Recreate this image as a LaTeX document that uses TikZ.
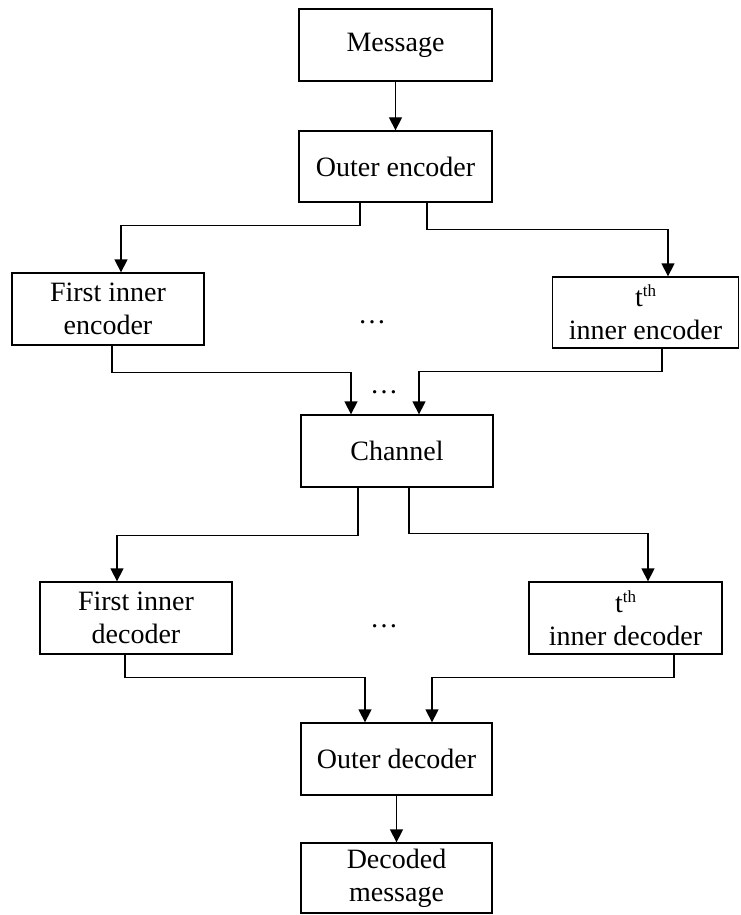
\documentclass[tikz,border=0pt]{standalone}
\usepackage{fontspec}
\setmainfont{Liberation Serif}
\usetikzlibrary{arrows.meta}
\begin{document}
\begin{tikzpicture}[x=1pt,y=-1pt,
  box/.style={draw, line width=1.3pt, inner sep=0pt, align=center,
    font=\fontsize{28}{33}\selectfont},
  arr/.style={line width=1.3pt, -{Triangle[length=13pt,width=13pt]}},
  dotsnode/.style={inner sep=0pt, anchor=base, font=\fontsize{28}{33}\selectfont}]
\useasboundingbox (0,0) rectangle (740,915);
\node[box, minimum width=193pt, minimum height=72pt] (msg) at (395.5,45) {Message};
\node[box, minimum width=193pt, minimum height=71pt] (outenc) at (395.5,166.5) {Outer encoder};
\node[box, minimum width=192pt, minimum height=72pt] (fie) at (108,309) {First inner\\encoder};
\node[box, minimum width=186pt, minimum height=71pt] (tie) at (645.5,312.5) {t\raisebox{10pt}{\fontsize{17}{17}\selectfont th}\\inner encoder};
\node[box, minimum width=192pt, minimum height=72pt] (chan) at (397,451) {Channel};
\node[box, minimum width=192pt, minimum height=72pt] (fid) at (136,618) {First inner\\decoder};
\node[box, minimum width=193pt, minimum height=72pt] (tid) at (625.5,618) {t\raisebox{10pt}{\fontsize{17}{17}\selectfont th}\\inner decoder};
\node[box, minimum width=191pt, minimum height=72pt] (outdec) at (396.5,759) {Outer decoder};
\node[box, minimum width=191pt, minimum height=70pt] (decm) at (396.5,878) {Decoded\\message};
\node[dotsnode] (d1) at (372,323) {…};
\node[dotsnode] (d2) at (384,393) {…};
\node[dotsnode] (d3) at (384,627) {…};
% connectors
\draw[arr] (msg.south) -- (outenc.north);
\draw[arr] ([xshift=-35.5pt]outenc.south) -- ++(0,-23pt) -| ([xshift=13pt]fie.north);
\draw[arr] ([xshift=31.5pt]outenc.south) -- ++(0,-27pt) -| ([xshift=22.5pt]tie.north);
\draw[arr] ([xshift=4pt]fie.south) -- ++(0,-27pt) -| ([xshift=-46pt]chan.north);
\draw[arr] ([xshift=16.5pt]tie.south) -- ++(0,-23pt) -| ([xshift=22pt]chan.north);
\draw[arr] ([xshift=-39pt]chan.south) -- ++(0,-48pt) -| ([xshift=-19pt]fid.north);
\draw[arr] ([xshift=12pt]chan.south) -- ++(0,-46pt) -| ([xshift=22.5pt]tid.north);
\draw[arr] ([xshift=-11pt]fid.south) -- ++(0,-23pt) -| ([xshift=-31.5pt]outdec.north);
\draw[arr] ([xshift=48.5pt]tid.south) -- ++(0,-23pt) -| ([xshift=35.5pt]outdec.north);
\draw[arr] (outdec.south) -- (decm.north);
\end{tikzpicture}
\end{document}
